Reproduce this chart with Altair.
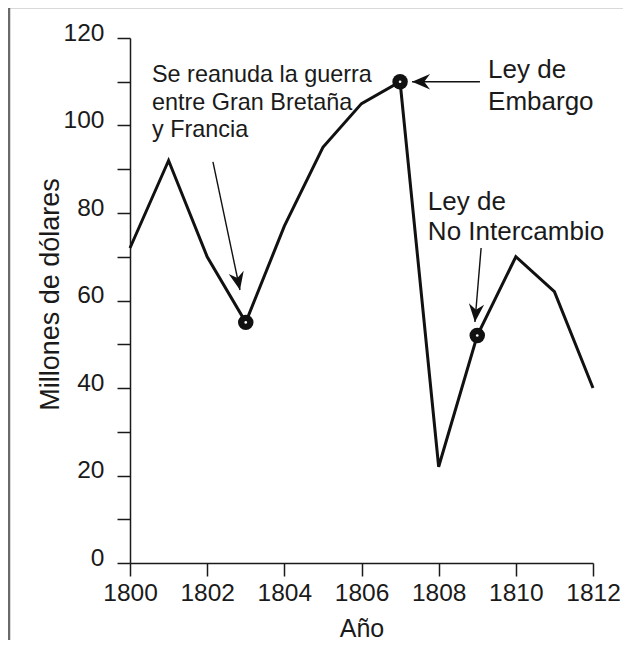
import altair as alt
import pandas as pd

# ---- data ----
years = [1800, 1801, 1802, 1803, 1804, 1805, 1806, 1807, 1808, 1809, 1810, 1811, 1812]
values = [72, 92, 70, 55, 77, 95, 105, 110, 22, 52, 70, 62, 40]

marked_years = [1803, 1807, 1809]
marked_values = [55, 110, 52]

# arrows: start (x, y) -> tip (x, y), in data units, with head angle
arrow_x = [1802.15, 1809.07, 1809.10]
arrow_y = [91.7, 110.0, 72.0]
arrow_x2 = [1802.85, 1807.31, 1808.94]
arrow_y2 = [62.4, 110.0, 55.1]
arrow_angle = [168, 270, 185]

ann_left_text = "Se reanuda la guerra\nentre Gran Bretaña\ny Francia"
ann_left_pos = (1800.57, 109.9)
ann_emb_text = "Ley de\nEmbargo"
ann_emb_pos = (1809.28, 110.9)
ann_noint_text = "Ley de\nNo Intercambio"
ann_noint_pos = (1807.72, 80.7)

y_ticks = list(range(0, 121, 10))
x_ticks = list(range(1800, 1813))

FONT = "Liberation Sans"

df = pd.DataFrame({"year": years, "value": values})
dm = pd.DataFrame({"year": marked_years, "value": marked_values})
da = pd.DataFrame({"x": arrow_x, "y": arrow_y, "x2": arrow_x2, "y2": arrow_y2, "angle": arrow_angle})

xscale = alt.Scale(domain=[1800, 1812], nice=False, zero=False)
yscale = alt.Scale(domain=[0, 120], nice=False)

x_axis = alt.Axis(
    values=x_ticks, format="d",
    labelExpr="datum.value % 2 == 0 ? datum.label : ''",
    title="Año", titleFont=FONT, titleFontSize=25, titleFontWeight="normal",
    titleColor="#1a1a1a", titleBaseline="top", titleY=53, titleX=231.5,
    labelFont=FONT, labelFontSize=24.5, labelColor="#1a1a1a", labelPadding=5,
    labelFlush=False, labelOverlap=False,
    tickSize=13, tickWidth=1.5, tickColor="#1a1a1a",
    domainColor="#1a1a1a", domainWidth=1.5, grid=False,
)
y_axis = alt.Axis(
    values=y_ticks,
    labelExpr="datum.value % 20 == 0 ? datum.label : ''",
    title="Millones de dólares", titleFont=FONT, titleFontSize=27, titleFontWeight="normal",
    titleColor="#1a1a1a", titleAngle=270, titleBaseline="bottom", titleX=-66, titleY=256,
    labelFont=FONT, labelFontSize=24.5, labelColor="#1a1a1a", labelPadding=13,
    labelOffset=-5, labelFlush=False, labelOverlap=False,
    tickSize=13, tickWidth=1.5, tickColor="#1a1a1a",
    domainColor="#1a1a1a", domainWidth=1.5, grid=False,
)

line = alt.Chart(df).mark_line(color="#111111", strokeWidth=3, strokeJoin="miter").encode(
    x=alt.X("year:Q", scale=xscale, axis=x_axis),
    y=alt.Y("value:Q", scale=yscale, axis=y_axis),
)

dots = alt.Chart(dm).mark_point(filled=True, shape="circle", size=240, color="#111111", opacity=1).encode(
    x=alt.X("year:Q", scale=xscale), y=alt.Y("value:Q", scale=yscale)
)
centers = alt.Chart(dm).mark_point(filled=True, shape="circle", size=7, color="white", opacity=1).encode(
    x=alt.X("year:Q", scale=xscale), y=alt.Y("value:Q", scale=yscale)
)

shafts = alt.Chart(da).mark_rule(color="#111111", strokeWidth=1.4).encode(
    x=alt.X("x:Q", scale=xscale), y=alt.Y("y:Q", scale=yscale),
    x2="x2:Q", y2="y2:Q",
)
heads = alt.Chart(da).mark_point(
    filled=True, shape="M0,0 L0.85,2 L0,1.35 L-0.85,2 Z", size=324, color="#111111", opacity=1
).encode(
    x=alt.X("x2:Q", scale=xscale), y=alt.Y("y2:Q", scale=yscale),
    angle=alt.Angle("angle:Q", scale=None),
)

def ann(text, pos, size, lh):
    d = pd.DataFrame({"x": [pos[0]], "y": [pos[1]], "t": [text]})
    return alt.Chart(d).mark_text(
        align="left", baseline="alphabetic", font=FONT, fontSize=size,
        lineBreak="\n", lineHeight=lh, color="#1a1a1a",
    ).encode(x=alt.X("x:Q", scale=xscale), y=alt.Y("y:Q", scale=yscale), text="t:N")

t1 = ann(ann_left_text, ann_left_pos, 23.4, 27.5)
t2 = ann(ann_emb_text, ann_emb_pos, 26, 32)
t3 = ann(ann_noint_text, ann_noint_pos, 26, 30)

frame_src = pd.DataFrame({"k": [0]})
top_border = alt.Chart(frame_src).mark_rule(color="#6a6a6a", strokeWidth=2.5).encode(
    x=alt.value(-121), x2=alt.value(600), y=alt.value(-31)
)
left_border = alt.Chart(frame_src).mark_rule(color="#6a6a6a", strokeWidth=2.5).encode(
    x=alt.value(-121), y=alt.value(-31), y2=alt.value(700)
)

chart = alt.layer(
    top_border, left_border, line, shafts, heads, dots, centers, t1, t2, t3
).properties(
    width=463, height=525,
    autosize=alt.AutoSizeParams(type="none"),
    padding={"left": 122, "top": 30, "right": 30, "bottom": 77},
    background="white",
).configure_view(strokeWidth=0)

chart.save("out.html", embed_options={"renderer": "svg", "actions": False})
